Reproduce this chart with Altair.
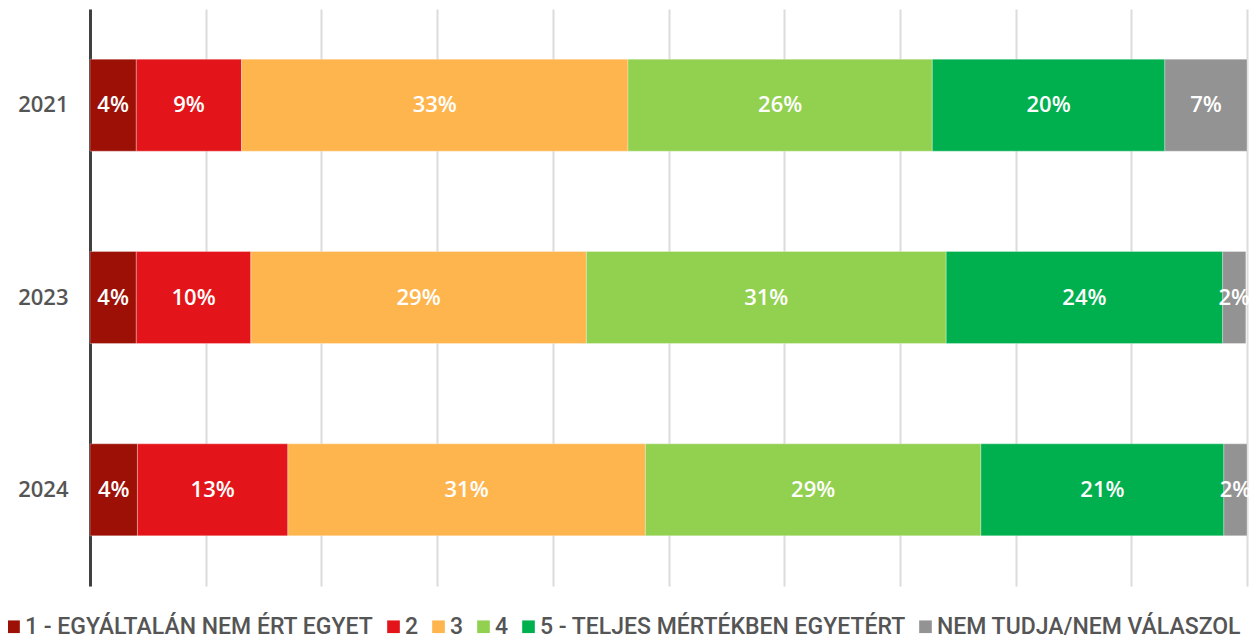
import altair as alt
import pandas as pd

years = ["2021", "2023", "2024"]
categories = ["1 - EGYÁLTALÁN NEM ÉRT EGYET", "2", "3", "4",
              "5 - TELJES MÉRTÉKBEN EGYETÉRT", "NEM TUDJA/NEM VÁLASZOL"]
colors = ["#9c1006", "#e3151a", "#ffb54d", "#92d050", "#00b04f", "#939393"]

values_2021 = [4.0, 9.1, 33.4, 26.3, 20.1, 7.1]
values_2023 = [4.0, 9.9, 29.0, 31.1, 23.9, 2.0]
values_2024 = [4.1, 13.0, 30.9, 29.0, 21.0, 2.0]
labels_2021 = ["4%", "9%", "33%", "26%", "20%", "7%"]
labels_2023 = ["4%", "10%", "29%", "31%", "24%", "2%"]
labels_2024 = ["4%", "13%", "31%", "29%", "21%", "2%"]

rows = []
for y, vals, labs in [("2021", values_2021, labels_2021),
                      ("2023", values_2023, labels_2023),
                      ("2024", values_2024, labels_2024)]:
    for i, (c, v, l) in enumerate(zip(categories, vals, labs)):
        rows.append({"year": y, "cat": c, "idx": i, "value": v, "label": l})
df = pd.DataFrame(rows)

base = alt.Chart(df).transform_stack(
    stack="value", groupby=["year"], as_=["x0", "x1"],
    sort=[alt.SortField("idx", order="ascending")]
).transform_calculate(mid="(datum.x0 + datum.x1) / 2")

y_enc = alt.Y("year:N", sort=years, title=None,
              scale=alt.Scale(paddingInner=0, paddingOuter=0),
              axis=alt.Axis(domainColor="#404040", domainWidth=3, ticks=False,
                            labelFontSize=22, labelFontWeight=600,
                            labelColor="#555555", labelPadding=22,
                            labelFont="Open Sans", grid=False))

bars = base.mark_bar(size=92, stroke="#ffffff", strokeWidth=0.3).encode(
    x=alt.X("x0:Q", scale=alt.Scale(domain=[0, 100], nice=False), title=None,
            axis=alt.Axis(values=list(range(0, 101, 10)), labels=False, ticks=False,
                          domain=False, grid=True, gridColor="#dcdcdc", gridWidth=2)),
    x2="x1:Q",
    y=y_enc,
    color=alt.Color("cat:N", sort=categories,
                    scale=alt.Scale(domain=categories, range=colors),
                    legend=alt.Legend(title=None, orient="none", direction="horizontal",
                                      legendX=-88, legendY=606, symbolType="square",
                                      symbolSize=160, symbolStrokeWidth=0,
                                      labelFontSize=23, labelColor="#555555",
                                      labelFont="Roboto", labelFontWeight=500,
                                      columnPadding=8,
                                      symbolOffset=0, labelOffset=0, padding=0,
                                      columns=6, labelLimit=600)),
)

texts = base.mark_text(color="white", fontSize=22, font="Open Sans",
                       fontWeight=600).encode(
    x=alt.X("mid:Q"),
    y=alt.Y("year:N", sort=years),
    text="label:N",
)

chart = alt.layer(bars, texts).properties(
    width=1157, height=577,
    autosize=alt.AutoSizeParams(type="none"),
    padding={"left": 82, "top": 1, "right": 2, "bottom": 49},
).configure_view(stroke=None)

chart.save("out.html", embed_options={"renderer": "svg", "actions": False})
